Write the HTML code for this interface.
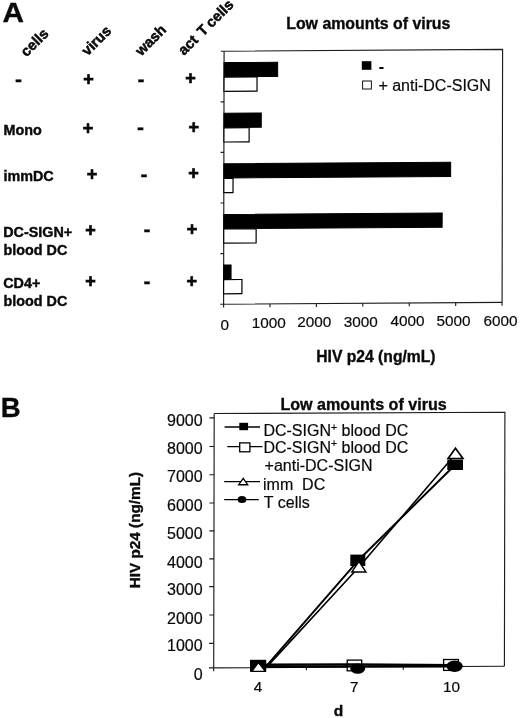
<!DOCTYPE html>
<html lang="en">
<head>
<meta charset="utf-8">
<title>Figure: HIV p24 transmission by DC-SIGN+ blood DC</title>
<style>
  html, body { margin: 0; padding: 0; background: #fff; }
  body { width: 520px; height: 718px; overflow: hidden; }
  svg { display: block; filter: blur(0.35px); }
  text { font-family: "Liberation Sans", Arial, Helvetica, sans-serif; fill: #0a0a0a; }
  .b { font-weight: bold; stroke: #0a0a0a; stroke-width: 0.35; }
  .pm { font-weight: bold; font-size: 18px; text-anchor: middle; stroke: #0a0a0a; stroke-width: 0.7; }
  .mn { font-weight: bold; font-size: 21px; text-anchor: middle; stroke: #0a0a0a; stroke-width: 0.3; }
  .row { font-weight: bold; font-size: 14.35px; stroke: #0a0a0a; stroke-width: 0.4; }
  .hd { font-weight: bold; font-size: 14.6px; stroke: #0a0a0a; stroke-width: 0.5; }
  .ax { font-size: 15.3px; text-anchor: middle; stroke: #0a0a0a; stroke-width: 0.2; }
  .ay { font-size: 16px; text-anchor: end; stroke: #0a0a0a; stroke-width: 0.2; }
  .lg { font-size: 16px; stroke: #0a0a0a; stroke-width: 0.2; }
  .ln { stroke: #1c1c1c; stroke-width: 1.15; fill: none; }
</style>
</head>
<body>
<svg width="520" height="718" viewBox="0 0 520 718">
  <rect x="0" y="0" width="520" height="718" fill="#ffffff"/>

  <!-- ================= PANEL A ================= -->
  <text class="b" transform="translate(2.6 22) scale(1.1 1)" font-size="27">A</text>

  <!-- rotated column headers -->
  <text class="hd" transform="translate(26.5 57.5) rotate(-45)">cells</text>
  <text class="hd" transform="translate(87.5 56.5) rotate(-45)">virus</text>
  <text class="hd" transform="translate(141.2 56.6) rotate(-45)" font-size="15.2">wash</text>
  <text class="hd" transform="translate(184 56) rotate(-45)" xml:space="preserve" word-spacing="-1.1">act  T cells</text>

  <!-- row labels -->
  <text class="row" x="3.5" y="135">Mono</text>
  <text class="row" x="3.5" y="181.2">immDC</text>
  <text class="row" x="3.2" y="236.7">DC-SIGN+</text>
  <text class="row" x="3.5" y="255">blood DC</text>
  <text class="row" x="3.2" y="287.5">CD4+</text>
  <text class="row" x="3.5" y="306.2">blood DC</text>

  <!-- cells column -->
  <text class="mn" x="18.4" y="86">-</text>

  <!-- virus column -->
  <text class="pm" x="88.4" y="85">+</text>
  <text class="pm" x="88" y="134.3">+</text>
  <text class="pm" x="92" y="180.3">+</text>
  <text class="pm" x="90.6" y="235.8">+</text>
  <text class="pm" x="90.6" y="287.3">+</text>

  <!-- wash column -->
  <text class="mn" x="140.9" y="85.5">-</text>
  <text class="mn" x="140.4" y="134.2">-</text>
  <text class="mn" x="144.1" y="180.5">-</text>
  <text class="mn" x="147.1" y="235.5">-</text>
  <text class="mn" x="147.1" y="287.5">-</text>

  <!-- act T cells column -->
  <text class="pm" x="190.5" y="84.3">+</text>
  <text class="pm" x="193.7" y="133.3">+</text>
  <text class="pm" x="193.5" y="179.3">+</text>
  <text class="pm" x="192" y="235">+</text>
  <text class="pm" x="191.7" y="286.8">+</text>

  <!-- chart A title -->
  <text class="b" x="286.2" y="28.8" font-size="15.9">Low amounts of virus</text>

  <!-- chart A plot (slightly sheared like the scan) -->
  <g transform="matrix(1 -0.0065 -0.002 1 224.1 51.2)">
    <!-- frame -->
    <path class="ln" d="M-3.3 0H278.5V253"/>
    <path class="ln" d="M0 0V256.3M-3.3 253H278.5"/>
    <!-- y ticks -->
    <path class="ln" d="M-3.3 50.6H0M-3.3 101.2H0M-3.3 151.8H0M-3.3 202.4H0"/>
    <!-- x ticks -->
    <path class="ln" d="M46.4 253v3.3M92.8 253v3.3M139.2 253v3.3M185.7 253v3.3M232.1 253v3.3M278.5 253v3.3"/>
    <!-- bars -->
    <g fill="#000" stroke="#000" stroke-width="1">
      <rect x="0" y="11.4" width="53.6" height="14.2"/>
      <rect x="0" y="62" width="37.3" height="14.2"/>
      <rect x="0" y="112.6" width="226.8" height="14.2"/>
      <rect x="0" y="163.2" width="218.4" height="14.2"/>
      <rect x="0" y="213.8" width="7.4" height="14.2"/>
    </g>
    <g fill="#fff" stroke="#000" stroke-width="1.2">
      <rect x="0" y="26.0" width="33" height="14.2"/>
      <rect x="0" y="76.6" width="25.2" height="14.2"/>
      <rect x="0" y="127.2" width="9.2" height="14.2"/>
      <rect x="0" y="177.8" width="32.4" height="14.2"/>
      <rect x="0" y="228.4" width="18.3" height="14.2"/>
    </g>
  </g>

  <!-- x labels A -->
  <text class="ax" x="224.8" y="329.6">0</text>
  <text class="ax" x="268.8" y="327.8">1000</text>
  <text class="ax" x="314.2" y="327.3">2000</text>
  <text class="ax" x="360.8" y="326.8">3000</text>
  <text class="ax" x="407.4" y="326.3">4000</text>
  <text class="ax" x="453.4" y="326.1">5000</text>
  <text class="ax" x="500.5" y="326">6000</text>

  <!-- legend A -->
  <rect x="361.8" y="61.2" width="9.6" height="8.6" fill="#000"/>
  <text class="lg b" x="378.8" y="71.6">-</text>
  <rect x="362.6" y="81" width="8.8" height="8" fill="#fff" stroke="#111" stroke-width="1"/>
  <text class="lg" x="378.4" y="91.4">+ anti-DC-SIGN</text>

  <!-- axis title A -->
  <text class="b" x="316.2" y="362.4" font-size="15.7">HIV p24 (ng/mL)</text>

  <!-- ================= PANEL B ================= -->
  <text class="b" x="0.8" y="417.3" font-size="27.5">B</text>

  <text class="b" x="280.4" y="410.2" font-size="16.1">Low amounts of virus</text>

  <!-- y axis title -->
  <text class="b" transform="translate(140.3 588.3) rotate(-90)" font-size="15.3">HIV p24 (ng/mL)</text>

  <!-- frame -->
  <path class="ln" d="M214.2 413.5L504.9 412.3L504.4 666.2"/>
  <path class="ln" d="M214.2 413.5L213.7 671.3M209 667.9L504.4 666.2"/>
  <!-- y ticks -->
  <path class="ln" d="M209.4 417.9h4.8M209.4 446.5h4.8M209.4 474.7h4.8M209.4 503h4.8M209.4 530.9h4.8M209.3 558.8h4.7M209.2 586.6h4.7M209.2 615h4.6M209.1 643.3h4.7"/>
  <!-- x ticks -->
  <path class="ln" d="M306.4 667.3v3M403.3 666.8v3"/>

  <!-- y labels -->
  <text class="ay" x="202.6" y="425.6">9000</text>
  <text class="ay" x="202.6" y="454.2">8000</text>
  <text class="ay" x="202.6" y="482.2">7000</text>
  <text class="ay" x="202.6" y="510.7">6000</text>
  <text class="ay" x="202.6" y="538.7">5000</text>
  <text class="ay" x="202.6" y="567.7">4000</text>
  <text class="ay" x="202.6" y="595.2">3000</text>
  <text class="ay" x="202.6" y="623.7">2000</text>
  <text class="ay" x="202.6" y="650.7">1000</text>
  <text class="ay" x="202.6" y="679.6">0</text>

  <!-- x labels -->
  <text class="ax" x="258" y="692" font-size="16">4</text>
  <text class="ax" x="354.2" y="692" font-size="16">7</text>
  <text class="ax" x="451.4" y="692" font-size="16">10</text>
  <text class="b" x="333.8" y="716" font-size="15.5">d</text>

  <!-- open-square markers sit under the lines -->
  <rect x="347.2" y="660.1" width="14.5" height="10.7" fill="#fff" stroke="#000" stroke-width="1.3"/>
  <rect x="443.6" y="659.5" width="14.8" height="10.9" fill="#fff" stroke="#000" stroke-width="1.3"/>
  <!-- data lines -->
  <g stroke="#000" fill="none" stroke-linejoin="round">
    <polyline points="265.2,667.3 358.3,560.3 455.2,464.8" stroke-width="1.95"/>
    <polyline points="266.2,667.6 359.2,566.8 455.6,454" stroke-width="1.6"/>
    <polyline points="259,664.7 354.6,664.4 455,665.2" stroke-width="2.4"/>
    <polyline points="259,666.7 357.7,666.4 455,666.4" stroke-width="2.4"/>
  </g>

  <!-- markers at day 4 -->
  <rect x="250" y="659.8" width="16.2" height="12" fill="#000"/>
  <polygon points="258.4,662.7 265.2,671.3 252,671.3" fill="#fff" stroke="#000" stroke-width="1.15"/>

  <!-- markers at day 7 -->
  <ellipse cx="357.7" cy="668.6" rx="7.5" ry="5.2" fill="#000"/>
  <rect x="350.3" y="554.6" width="15" height="11.4" fill="#000"/>
  <polygon points="358.9,561.3 365.9,571.9 351.9,571.9" fill="#fff" stroke="#000" stroke-width="1.5"/>

  <!-- markers at day 10 -->
  <ellipse cx="454.6" cy="666.3" rx="8.2" ry="5.7" fill="#000"/>
  <rect x="447.3" y="459.6" width="15.7" height="10.4" fill="#000"/>
  <polygon points="455.5,448.2 462.9,458.5 448.1,458.5" fill="#fff" stroke="#000" stroke-width="1.7"/>

  <!-- legend B -->
  <g stroke="#000" stroke-width="1.3" fill="none">
    <path d="M224.6 427H260"/>
    <path d="M227.3 446.7H262.5"/>
    <path d="M224.2 481.7H260"/>
    <path d="M224.2 499.7H258.8"/>
  </g>
  <rect x="239.3" y="422.8" width="8.8" height="7.4" fill="#000"/>
  <rect x="239.7" y="442.9" width="10.2" height="8.9" fill="#fff" stroke="#000" stroke-width="1.3"/>
  <polygon points="243.2,478.4 247.7,484.7 238.7,484.7" fill="#fff" stroke="#000" stroke-width="1.35"/>
  <ellipse cx="242" cy="499.6" rx="4.4" ry="3.5" fill="#000"/>

  <text class="lg" x="263.4" y="436">DC-SIGN<tspan font-size="10.5" dy="-5.5">+</tspan><tspan dy="5.5"> blood DC</tspan></text>
  <text class="lg" x="263.4" y="452.7">DC-SIGN<tspan font-size="10.5" dy="-5.5">+</tspan><tspan dy="5.5"> blood DC</tspan></text>
  <text class="lg" x="264.6" y="470.6" font-size="15.5">+anti-DC-SIGN</text>
  <text class="lg" x="263" y="490.1" xml:space="preserve">imm  DC</text>
  <text class="lg" x="263.8" y="508.2">T cells</text>
</svg>
</body>
</html>
